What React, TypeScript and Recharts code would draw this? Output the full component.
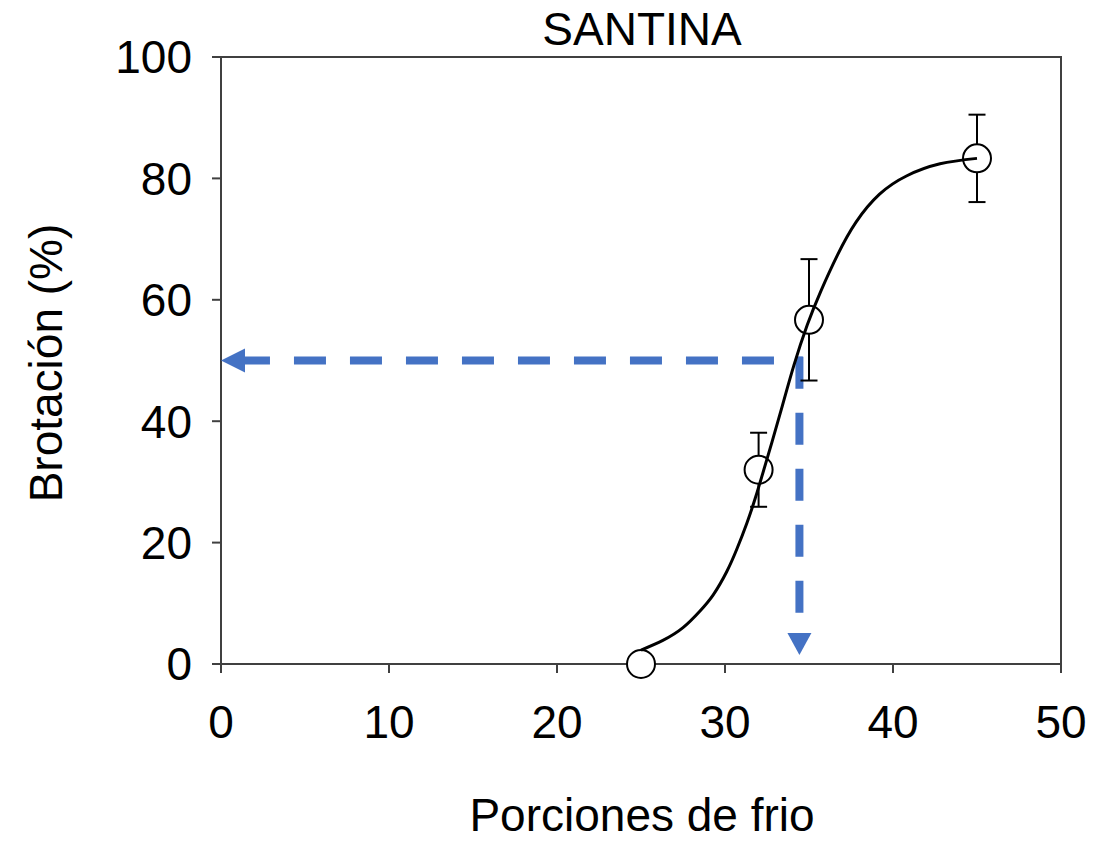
import {
  ComposedChart,
  ErrorBar,
  Label,
  Line,
  ReferenceArea,
  ReferenceDot,
  ReferenceLine,
  XAxis,
  YAxis,
} from "recharts";

const xTicks = [0, 10, 20, 30, 40, 50];
const yTicks = [0, 20, 40, 60, 80, 100];

// observed sprouting (%) per chill portions, with error
const obsChill = [25, 32, 35, 45];
const obsSprout = [0, 32.0, 56.7, 83.3];
const obsErr = [0, 6.1, 10, 7.2];

// fitted curve
const fitChill = [25, 26.3, 27.5, 28.5, 29.3, 30.1, 30.7, 31.3, 31.8, 32.3, 32.8, 33.4, 34.1, 34.9, 35.7, 36.7, 37.8, 39.2, 40.8, 42.8, 45];
const fitSprout = [2.3, 3.9, 6.0, 8.7, 11.4, 15.2, 18.9, 23.2, 27.3, 31.9, 36.6, 42.4, 49.2, 55.9, 61.4, 67.4, 72.8, 77.4, 80.4, 82.4, 83.3];

// 50% sprouting threshold and the chill portions where it is reached
const half = 50;
const halfChill = 34.43;

const FONT = "'Liberation Sans', Arial, sans-serif";
const AXIS = "#404040";
const BLUE = "#4472C4";

const obsData = obsChill.map((x, i) => ({ x, y: obsSprout[i], err: obsErr[i] }));
const fitData = fitChill.map((x, i) => ({ x, y: fitSprout[i] }));

const tickStyle = { fontSize: 46, fill: "#000", fontFamily: FONT };

export default function App() {
  return (
    <div style={{ position: "absolute", left: 0, top: 0, background: "#fff" }}>
      <ComposedChart
        width={1116}
        height={841}
        margin={{ top: 57, right: 55, bottom: 0, left: 0 }}
      >
        <XAxis
          dataKey="x"
          type="number"
          domain={[0, 50]}
          ticks={xTicks}
          height={177}
          tickSize={9}
          tickMargin={32}
          tick={tickStyle}
          stroke={AXIS}
          strokeWidth={2}
        >
          <Label
            content={() => (
              <g>
                <text x={642} y={831} textAnchor="middle" fontSize={46} fontFamily={FONT} fill="#000">
                  Porciones de frio
                </text>
                <text x={642} y={45} textAnchor="middle" fontSize={46} fontFamily={FONT} fill="#000">
                  SANTINA
                </text>
              </g>
            )}
          />
        </XAxis>
        <YAxis
          type="number"
          domain={[0, 100]}
          ticks={yTicks}
          width={221}
          tickSize={9}
          tickMargin={20}
          tick={tickStyle}
          stroke={AXIS}
          strokeWidth={2}
        >
          <Label
            content={() => (
              <text
                x={62}
                y={363}
                transform="rotate(-90 62 363)"
                textAnchor="middle"
                fontSize={46}
                fontFamily={FONT}
                fill="#000"
              >
                Brotación (%)
              </text>
            )}
          />
        </YAxis>
        <ReferenceArea x1={0} x2={50} y1={0} y2={100} fill="none" stroke={AXIS} strokeWidth={2} />
        <ReferenceLine
          segment={[{ x: 1.01, y: half }, { x: halfChill + 0.2, y: half }]}
          stroke={BLUE}
          strokeWidth={8}
          strokeDasharray="32 24"
        />
        <ReferenceLine
          segment={[{ x: halfChill, y: half + 0.6 }, { x: halfChill, y: 5.2 }]}
          stroke={BLUE}
          strokeWidth={8}
          strokeDasharray="32 24"
        />
        <ReferenceDot
          x={0}
          y={half}
          shape={(p: any) => (
            <polygon
              points={`${p.cx},${p.cy} ${p.cx + 24},${p.cy - 12} ${p.cx + 24},${p.cy + 12}`}
              fill={BLUE}
            />
          )}
        />
        <ReferenceDot
          x={halfChill}
          y={1.5}
          shape={(p: any) => (
            <polygon
              points={`${p.cx},${p.cy} ${p.cx - 12},${p.cy - 22} ${p.cx + 12},${p.cy - 22}`}
              fill={BLUE}
            />
          )}
        />
        {/* observed points: a Line with no stroke, so the fitted curve can go on top */}
        <Line
          data={obsData}
          dataKey="y"
          stroke="none"
          isAnimationActive={false}
          activeDot={false}
          dot={(p: any) => (
            <circle key={p.index} cx={p.cx} cy={p.cy} r={14} fill="#fff" stroke="#000" strokeWidth={2} />
          )}
        >
          <ErrorBar dataKey="err" direction="y" width={8.5} stroke="#000" strokeWidth={2} />
        </Line>
        <Line
          data={fitData}
          dataKey="y"
          type="natural"
          stroke="#000"
          strokeWidth={3}
          dot={false}
          activeDot={false}
          isAnimationActive={false}
          {...({ zIndex: 1500 } as any)}
        />
      </ComposedChart>
    </div>
  );
}
